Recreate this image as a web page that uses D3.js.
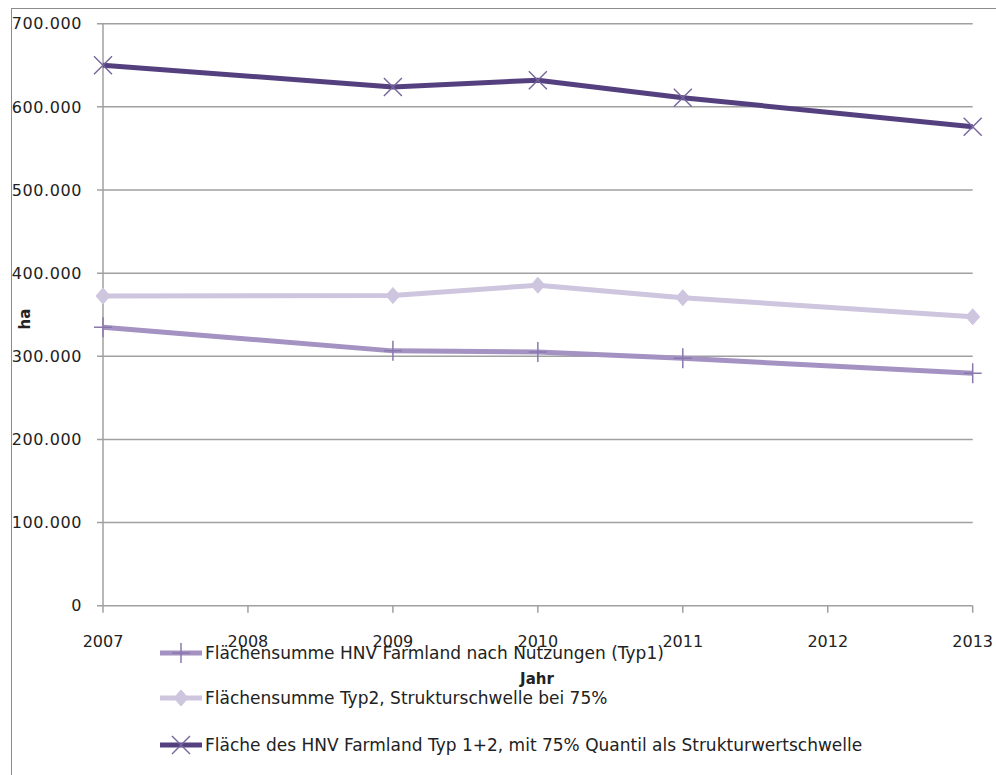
<!DOCTYPE html>
<html>
<head>
<meta charset="utf-8">
<script src="https://cdn.jsdelivr.net/npm/d3@7"></script>
<style>
  html, body { margin: 0; padding: 0; background: #fff; }
  svg { display: block; }
  text { font-family: "DejaVu Sans", sans-serif; fill: #222; }
</style>
</head>
<body>
<div id="chart"></div>
<script>
// HNV Farmland area (ha) per year
const years = [2007, 2009, 2010, 2011, 2013];
const typ1 = [335000, 306500, 305000, 297500, 279500];
const typ2 = [372500, 373000, 385500, 370500, 347500];
const typ12 = [650000, 624000, 632000, 611000, 576000];

const seriesNames = [
  "Flächensumme HNV Farmland nach Nutzungen (Typ1)",
  "Flächensumme Typ2, Strukturschwelle bei  75%",
  "Fläche des HNV Farmland Typ 1+2, mit 75% Quantil als Strukturwertschwelle"
];
const seriesColors = ["#a392c2", "#cec5df", "#54407f"];
const markerColors = ["#8a78ad", "#cec5df", "#75659c"];
const markerTypes = ["plus", "diamond", "cross"];
const yTicks = [0, 100000, 200000, 300000, 400000, 500000, 600000, 700000];
const xTicks = [2007, 2008, 2009, 2010, 2011, 2012, 2013];

const W = 996, H = 775;
const svg = d3.select("#chart").append("svg").attr("width", W).attr("height", H);

svg.append("rect").attr("width", W).attr("height", H).attr("fill", "#fff");
// chart frame (runs off the right and bottom edges)
svg.append("rect")
  .attr("x", 11.5).attr("y", 8.5).attr("width", 1000).attr("height", 800)
  .attr("fill", "none").attr("stroke", "#8c8c8c").attr("stroke-width", 1);

const x = d3.scaleLinear().domain([2007, 2013]).range([103, 972.7]);
const y = d3.scaleLinear().domain([0, 700000]).range([605.7, 23.7]);

const fmt = v => v === 0 ? "0" : d3.format(",")(v).replace(/,/g, ".");

// horizontal gridlines (also act as y ticks)
svg.append("g").selectAll("line").data(yTicks).join("line")
  .attr("x1", x(2007) - 6).attr("x2", x(2013))
  .attr("y1", d => y(d)).attr("y2", d => y(d))
  .attr("stroke", "#a0a0a0").attr("stroke-width", 1.5);

// y axis line
svg.append("line")
  .attr("x1", x(2007)).attr("x2", x(2007))
  .attr("y1", y(700000)).attr("y2", y(0))
  .attr("stroke", "#a0a0a0").attr("stroke-width", 1.5);

// x ticks
svg.append("g").selectAll("line").data(xTicks).join("line")
  .attr("x1", d => x(d)).attr("x2", d => x(d))
  .attr("y1", y(0)).attr("y2", y(0) + 7)
  .attr("stroke", "#a0a0a0").attr("stroke-width", 1.5);

// y labels
svg.append("g").selectAll("text").data(yTicks).join("text")
  .attr("x", 82).attr("y", d => y(d))
  .attr("dy", "0.36em")
  .attr("text-anchor", "end")
  .attr("font-size", 16)
  .attr("letter-spacing", 0.6)
  .text(fmt);

// x labels
svg.append("g").selectAll("text").data(xTicks).join("text")
  .attr("x", d => x(d)).attr("y", 647)
  .attr("text-anchor", "middle")
  .attr("font-size", 16)
  .text(d => d);

// axis titles
svg.append("text")
  .attr("transform", "translate(30,319) rotate(-90)")
  .attr("text-anchor", "middle")
  .attr("font-size", 15).attr("font-weight", "bold")
  .text("ha");
svg.append("text")
  .attr("x", 537).attr("y", 684)
  .attr("text-anchor", "middle")
  .attr("font-size", 15).attr("font-weight", "bold")
  .text("Jahr");

function drawMarker(g, type, cx, cy, color) {
  if (type === "plus") {
    g.append("path")
      .attr("d", `M${cx - 9},${cy}H${cx + 9}M${cx},${cy - 10}V${cy + 10}`)
      .attr("stroke", color).attr("stroke-width", 1.5).attr("fill", "none");
  } else if (type === "diamond") {
    g.append("path")
      .attr("d", `M${cx},${cy - 8}L${cx + 7},${cy}L${cx},${cy + 8}L${cx - 7},${cy}Z`)
      .attr("fill", color).attr("stroke", color).attr("stroke-width", 1);
  } else {
    g.append("path")
      .attr("d", `M${cx - 9},${cy - 9}L${cx + 9},${cy + 9}M${cx - 9},${cy + 9}L${cx + 9},${cy - 9}`)
      .attr("stroke", color).attr("stroke-width", 1.4).attr("fill", "none");
  }
}

const allSeries = [typ1, typ2, typ12];
const line = d3.line().x(d => x(d[0])).y(d => y(d[1]));

allSeries.forEach((vals, i) => {
  const pts = years.map((yr, j) => [yr, vals[j]]);
  const g = svg.append("g");
  g.append("path").datum(pts)
    .attr("d", line)
    .attr("fill", "none")
    .attr("stroke", seriesColors[i])
    .attr("stroke-width", 5)
    .attr("stroke-linejoin", "round");
  pts.forEach(p => drawMarker(g, markerTypes[i], x(p[0]), y(p[1]), markerColors[i]));
});

// legend
const legendRows = [653, 698, 745];
seriesNames.forEach((name, i) => {
  const g = svg.append("g");
  const ly = legendRows[i];
  g.append("line")
    .attr("x1", 160).attr("x2", 202).attr("y1", ly).attr("y2", ly)
    .attr("stroke", seriesColors[i]).attr("stroke-width", 5);
  drawMarker(g, markerTypes[i], 181, ly, markerColors[i]);
  g.append("text")
    .attr("x", 205).attr("y", ly).attr("dy", "0.36em")
    .attr("font-size", 17)
    .text(name);
});
</script>
</body>
</html>
